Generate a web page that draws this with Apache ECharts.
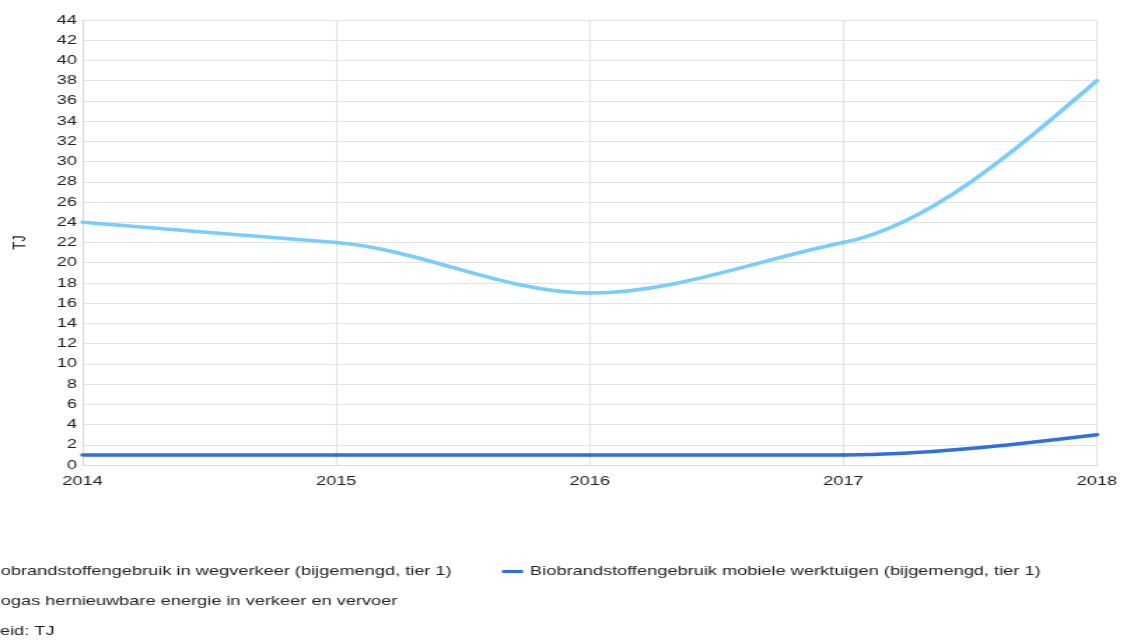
<!DOCTYPE html>
<html>
<head>
<meta charset="utf-8">
<script src="https://cdn.jsdelivr.net/npm/echarts@6/dist/echarts.min.js"></script>
<style>
  html, body { margin: 0; padding: 0; background: #fff; overflow: hidden; }
  #wrap { width: 1124px; height: 641px; overflow: hidden; position: relative; }
  /* chart is laid out narrow and widened horizontally */
  #chart { width: 803px; height: 641px; transform: scaleX(1.4); transform-origin: 0 0; }
</style>
</head>
<body>
<div id="wrap"><div id="chart"></div></div>
<script>
const years = ['2014', '2015', '2016', '2017', '2018'];
const wegverkeer = [24, 22, 17, 22, 38];
const mobieleWerktuigen = [1, 1, 1, 1, 3];
const biogas = [null, null, null, null, null];

const nameWeg = 'Biobrandstoffengebruik in wegverkeer (bijgemengd, tier 1)';
const nameMob = 'Biobrandstoffengebruik mobiele werktuigen (bijgemengd, tier 1)';
const nameBio = 'Biogas hernieuwbare energie in verkeer en vervoer';

const font = 'Arial, "Liberation Sans", sans-serif';
const textColor = '#222';

// Tangents for a shape-preserving cubic curve: interior slopes take the
// smaller neighbouring secant (zero at turning points), ends are parabolic.
function tangents(vals) {
  const n = vals.length;
  const d = [];
  for (let i = 0; i < n - 1; i++) d.push(vals[i + 1] - vals[i]);
  const m = new Array(n).fill(0);
  for (let i = 1; i < n - 1; i++) {
    const a = d[i - 1], b = d[i];
    m[i] = a * b <= 0 ? 0 : (Math.abs(a) < Math.abs(b) ? a : b);
  }
  if (n > 1) {
    m[0] = n > 2 ? (3 * d[0] - m[1]) / 2 : d[0];
    m[n - 1] = n > 2 ? (3 * d[n - 2] - m[n - 2]) / 2 : d[n - 2];
  }
  return m;
}

// Custom series that draws each segment as a cubic Bézier through the axes' scales.
function curveSeries(name, vals, color) {
  const m = tangents(vals);
  return {
    name: name,
    type: 'custom',
    silent: true,
    itemStyle: { color: color },
    encode: { x: 0, y: 1 },
    data: vals.map((v, i) => [i, v]),
    renderItem: function (params, api) {
      const i = params.dataIndex;
      if (i >= vals.length - 1) return null;
      const y0 = vals[i], y1 = vals[i + 1];
      const p0 = api.coord([i, y0]);
      const p1 = api.coord([i + 1, y1]);
      const c0 = api.coord([i, y0 + m[i] / 3]);
      const c1 = api.coord([i + 1, y1 - m[i + 1] / 3]);
      const dx = p1[0] - p0[0];
      return {
        type: 'bezierCurve',
        shape: {
          x1: p0[0], y1: p0[1],
          x2: p1[0], y2: p1[1],
          cpx1: p0[0] + dx / 3, cpy1: c0[1],
          cpx2: p1[0] - dx / 3, cpy2: c1[1]
        },
        style: { stroke: color, lineWidth: 3.5, fill: 'none', lineCap: 'round' }
      };
    }
  };
}

const chart = echarts.init(document.getElementById('chart'), null, { renderer: 'canvas' });

const legendBase = {
  left: -31,
  orient: 'horizontal',
  icon: 'rect',
  itemWidth: 15,
  itemHeight: 3,
  itemGap: 36,
  padding: 0,
  selectedMode: false,
  textStyle: { fontFamily: font, fontSize: 13, color: textColor }
};

chart.setOption({
  animation: false,
  backgroundColor: '#fff',
  grid: { left: 58, right: 19.5, top: 20, bottom: 176, containLabel: false },
  legend: [
    Object.assign({}, legendBase, { top: 565, data: [nameWeg, nameMob] }),
    Object.assign({}, legendBase, { top: 595, data: [nameBio] })
  ],
  graphic: [{
    type: 'text',
    left: -30.4,
    top: 625,
    style: { text: 'Eenheid: TJ', font: '13px ' + font, fill: textColor }
  }],
  xAxis: {
    type: 'category',
    data: years,
    boundaryGap: false,
    axisLine: { show: true, lineStyle: { color: '#d9d9d9', width: 1 } },
    axisTick: { show: false },
    axisLabel: { color: textColor, fontFamily: font, fontSize: 13, margin: 10 },
    splitLine: { show: true, lineStyle: { color: '#e3e3e3', width: 1 } }
  },
  yAxis: {
    type: 'value',
    min: 0,
    max: 44,
    interval: 2,
    name: 'TJ',
    nameLocation: 'middle',
    nameGap: 38,
    nameTextStyle: { color: textColor, fontFamily: font, fontSize: 13 },
    axisLine: { show: true, lineStyle: { color: '#d9d9d9', width: 1 } },
    axisTick: { show: false },
    axisLabel: { color: textColor, fontFamily: font, fontSize: 13, margin: 4 },
    splitLine: { show: true, lineStyle: { color: '#e3e3e3', width: 1 } }
  },
  series: [
    curveSeries(nameWeg, wegverkeer, '#78cdfd'),
    curveSeries(nameMob, mobieleWerktuigen, '#2f6fdf'),
    {
      name: nameBio,
      type: 'line',
      data: biogas,
      showSymbol: false,
      color: '#9ccc65',
      lineStyle: { width: 3.5, color: '#9ccc65' }
    }
  ]
});
</script>
</body>
</html>
